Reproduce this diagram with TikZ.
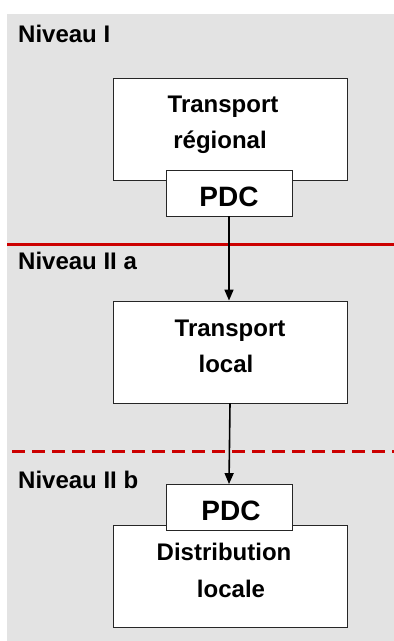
\documentclass[tikz,border=0pt]{standalone}
\usepackage{fontspec}
\setmainfont{Liberation Sans}
\usetikzlibrary{arrows.meta}
\definecolor{bggrey}{HTML}{E3E3E3}
\definecolor{sepred}{HTML}{CC0000}
\tikzset{
  box/.style={draw=black!85, line width=0.9pt, fill=white, inner sep=0pt},
  bigbox/.style={box, minimum width=234pt, minimum height=102pt},
  pdcbox/.style={box, minimum width=126pt, minimum height=46pt},
  txt/.style={anchor=base, inner sep=0pt, font=\bfseries\fontsize{24}{28}\selectfont},
  pdctxt/.style={anchor=base, inner sep=0pt, font=\bfseries\fontsize{28}{32}\selectfont},
  lvl/.style={anchor=base west, inner sep=0pt, font=\bfseries\fontsize{24}{28}\selectfont},
  conn/.style={line width=1.6pt, -{Triangle[length=11pt,width=9pt]}},
  sepline/.style={sepred, line width=3pt},
}
\begin{document}
\begin{tikzpicture}[x=1pt,y=-1pt]
\useasboundingbox (0,0) rectangle (394,641);
\fill[bggrey] (7,14) rectangle (394,641);
% separators
\coordinate (s1a) at (7,244);
\coordinate (s1b) at (394,244);
\draw[sepline] (s1a) -- (s1b);
\coordinate (s2a) at (12,451);
\coordinate (s2b) at (394,451);
\draw[sepline, dash pattern=on 13pt off 7pt] (s2a) -- (s2b);
% level labels
\node[lvl] (l1) at (18,42) {Niveau I};
\node[lvl] (l2) at (18,269) {Niveau II a};
\node[lvl] (l3) at (18,488) {Niveau II b};
% level I
\node[bigbox] (reg) at (230,129) {};
\node[txt] (reg1) at (223,112) {Transport};
\node[txt] (reg2) at (220,148) {régional};
\node[pdcbox] (pdc1) at (229,193) {};
\node[pdctxt] (pdc1t) at (229,206) {PDC};
% level II a
\node[bigbox] (loc) at (230,352) {};
\node[txt] (loc1) at (230,336) {Transport};
\node[txt] (loc2) at (226,372) {local};
% level II b
\node[bigbox] (dist) at (230,576) {};
\node[txt] (dist1) at (224,560) {Distribution};
\node[txt] (dist2) at (231,597) {locale};
\node[pdcbox] (pdc2) at (229,507.5) {};
\node[pdctxt] (pdc2t) at (231,520) {PDC};
% connectors
\draw[conn] (pdc1.south) -- (loc.north -| pdc1.south);
\draw[conn] (loc.south) -- (pdc2.north);
\end{tikzpicture}
\end{document}
